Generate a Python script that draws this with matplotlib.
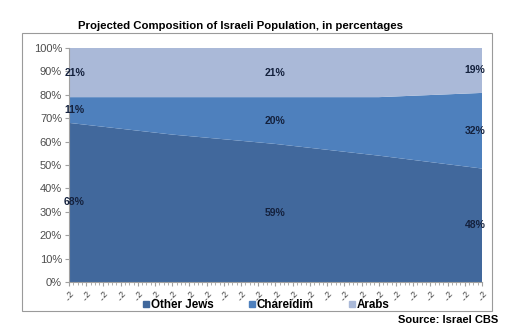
import numpy as np
import matplotlib
matplotlib.use("Agg")
import matplotlib.pyplot as plt
from matplotlib.patches import Rectangle
from matplotlib.lines import Line2D

# projection categories along the x axis (25 slots, labels truncated in the source sheet)
n_categories = 25
category_labels = ["..2"] * n_categories

# points where the shares were read, and the share of each group there (%)
point_index = [0, 6, 12, 18, 24]
other_jews = [68, 63, 59, 54, 48]
chareidim = [11, 16, 20, 25, 32]
arabs = [21, 21, 21, 21, 19]

series_names = ["Other Jews", "Chareidim", "Arabs"]
series_colors = ["#41689C", "#4E80BD", "#AAB9D8"]
labelled_points = [0, 12, 24]

plt.rcParams["font.family"] = ["Liberation Sans", "DejaVu Sans"]

stack = np.array([other_jews, chareidim, arabs], dtype=float)
stack_pct = stack / stack.sum(axis=0) * 100  # 100% stacked

fig = plt.figure(figsize=(5.17, 3.32), dpi=100)
fig.patch.set_facecolor("white")

# chart border
fig.patches.append(Rectangle((22 / 517, 1 - 311 / 332), 470 / 517, 278 / 332,
                             transform=fig.transFigure, fill=False,
                             edgecolor="#9A9A9A", linewidth=0.8))

ax = fig.add_axes([69 / 517, 1 - 282 / 332, 413 / 517, 234 / 332])
ax.stackplot(point_index, stack_pct, colors=series_colors, linewidth=0)

ax.set_xlim(0, n_categories - 1)
ax.set_ylim(0, 100)

ax.set_yticks(np.arange(0, 101, 10))
ax.set_yticklabels([f"{v}%" for v in range(0, 101, 10)], fontsize=8, color="#4D4D4D")
ax.set_xticks(np.arange(n_categories))
ax.set_xticklabels(category_labels, rotation=45, fontsize=6.5, color="#444444",
                   ha="center", va="top")
ax.set_xticks(np.arange(0, n_categories - 1, 0.25), minor=True)
ax.tick_params(axis="both", which="major", length=3, color="#A0A0A0", pad=2)
ax.tick_params(axis="x", which="minor", length=2, color="#A0A0A0")
for side in ["top", "right"]:
    ax.spines[side].set_visible(False)
for side in ["left", "bottom"]:
    ax.spines[side].set_color("#A0A0A0")
    ax.spines[side].set_linewidth(0.8)

# data labels in the middle of each band
for k, idx in enumerate(labelled_points):
    col = point_index.index(idx)
    base = 0.0
    dx = 4 if k == 0 else (-5 if k == len(labelled_points) - 1 else 0)
    for s in range(len(series_names)):
        value = stack[s, col]
        mid = base + stack_pct[s, col] / 2
        base += stack_pct[s, col]
        ax.annotate(f"{value:.0f}%", (idx, mid), xytext=(dx, 0),
                    textcoords="offset points", ha="center", va="center",
                    fontsize=7.5, fontweight="bold", color="#14213D")

fig.text(241 / 517, 1 - 26 / 332,
         "Projected Composition of Israeli Population, in percentages",
         ha="center", va="center", fontsize=8.2, fontweight="bold")

handles = [Line2D([], [], marker="s", linestyle="none", markersize=4,
                  markerfacecolor=c, markeredgecolor=c) for c in series_colors]
fig.legend(handles, series_names, loc="center", bbox_to_anchor=(266 / 517, 1 - 305 / 332),
           ncol=3, frameon=False, handlelength=0.6, handletextpad=0.1,
           columnspacing=3.0, prop={"size": 8.4, "weight": "bold"})

fig.text(498 / 517, 1 - 320 / 332, "Source: Israel CBS", ha="right", va="center",
         fontsize=8, fontweight="bold")

fig.savefig("out.png", dpi=100)
